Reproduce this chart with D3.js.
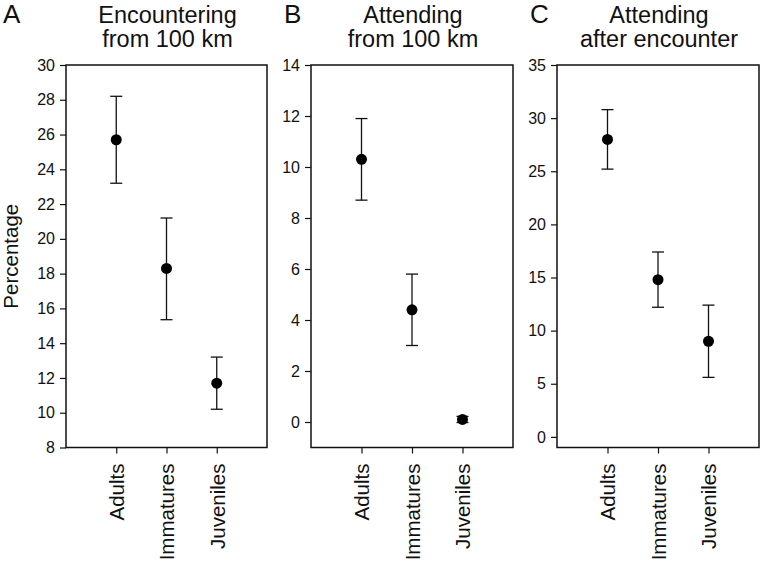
<!DOCTYPE html>
<html>
<head>
<meta charset="utf-8">
<script src="https://cdn.jsdelivr.net/npm/d3@7"></script>
<style>
  html, body { margin: 0; padding: 0; background: #fff; }
  svg { display: block; font-family: "Liberation Sans", Arial, sans-serif; }
</style>
</head>
<body>
<svg id="chart" width="762" height="564"></svg>
<script>
// ---- data ----
const categories = ["Adults", "Immatures", "Juveniles"];
const panelLetters = ["A", "B", "C"];
const titleLines1 = ["Encountering", "Attending", "Attending"];
const titleLines2 = ["from 100 km", "from 100 km", "after encounter"];

const meansA = [25.7, 18.3, 11.7];
const lowA   = [23.2, 15.35, 10.2];
const highA  = [28.2, 21.2, 13.2];

const meansB = [10.3, 4.4, 0.1];
const lowB   = [8.7, 3.0, -0.02];
const highB  = [11.9, 5.8, 0.22];

const meansC = [28.0, 14.8, 9.0];
const lowC   = [25.2, 12.2, 5.6];
const highC  = [30.8, 17.4, 12.4];

const ticksA = [8, 10, 12, 14, 16, 18, 20, 22, 24, 26, 28, 30];
const ticksB = [0, 2, 4, 6, 8, 10, 12, 14];
const ticksC = [0, 5, 10, 15, 20, 25, 30, 35];

const domainA = [8, 30];
const domainB = [-1, 14];
const domainC = [-1, 35];

const yLabel = "Percentage";

// ---- layout ----
const plotTop = 65, plotBottom = 447.5;
const panels = [
  { left: 66,  right: 267, means: meansA, low: lowA, high: highA, ticks: ticksA, domain: domainA },
  { left: 311, right: 513, means: meansB, low: lowB, high: highB, ticks: ticksB, domain: domainB },
  { left: 557, right: 759, means: meansC, low: lowC, high: highC, ticks: ticksC, domain: domainC }
];
const letterX = [3, 284, 530];

const svg = d3.select("#chart");
const ink = "#111";

panels.forEach((p, i) => {
  const g = svg.append("g");
  const x = d3.scalePoint().domain(categories).range([p.left, p.right]).padding(1);
  const y = d3.scaleLinear().domain(p.domain).range([plotBottom, plotTop]);

  // frame
  g.append("rect")
    .attr("x", p.left).attr("y", plotTop)
    .attr("width", p.right - p.left).attr("height", plotBottom - plotTop)
    .attr("fill", "none").attr("stroke", ink).attr("stroke-width", 1.5);

  // y axis
  const ya = g.append("g").attr("transform", `translate(${p.left},0)`)
    .call(d3.axisLeft(y).tickValues(p.ticks).tickSize(6).tickPadding(5).tickFormat(d3.format("d")));
  ya.select(".domain").remove();
  ya.selectAll("line").attr("stroke", ink).attr("stroke-width", 1.2);
  ya.selectAll("text").attr("fill", ink).style("font-size", "16px")
    .style("font-family", "'Liberation Sans', Arial, sans-serif");

  // x axis
  const xa = g.append("g").attr("transform", `translate(0,${plotBottom})`)
    .call(d3.axisBottom(x).tickSize(6).tickPadding(10));
  xa.select(".domain").remove();
  xa.selectAll("line").attr("stroke", ink).attr("stroke-width", 1.2);
  xa.selectAll("text")
    .attr("fill", ink)
    .style("font-size", "20.5px")
    .style("font-family", "'Liberation Sans', Arial, sans-serif")
    .attr("text-anchor", "end")
    .attr("transform", "rotate(-90)")
    .attr("x", -16).attr("y", 0).attr("dy", "0.36em");

  // error bars
  const capW = 6;
  categories.forEach((c, j) => {
    const cx = x(c);
    g.append("line").attr("x1", cx).attr("x2", cx)
      .attr("y1", y(p.low[j])).attr("y2", y(p.high[j]))
      .attr("stroke", ink).attr("stroke-width", 1.3);
    [p.low[j], p.high[j]].forEach(v => {
      g.append("line").attr("x1", cx - capW).attr("x2", cx + capW)
        .attr("y1", y(v)).attr("y2", y(v))
        .attr("stroke", ink).attr("stroke-width", 1.3);
    });
    g.append("circle").attr("cx", cx).attr("cy", y(p.means[j])).attr("r", 5.5).attr("fill", "#000");
  });

  // titles
  const cxTitle = (p.left + p.right) / 2 + 1;
  g.append("text").attr("x", cxTitle).attr("y", 23).attr("text-anchor", "middle")
    .attr("fill", ink).style("font-size", "23.5px").text(titleLines1[i]);
  g.append("text").attr("x", cxTitle).attr("y", 47).attr("text-anchor", "middle")
    .attr("fill", ink).style("font-size", "23.5px").text(titleLines2[i]);

  // panel letter
  g.append("text").attr("x", letterX[i]).attr("y", 23)
    .attr("fill", ink).style("font-size", "26px").text(panelLetters[i]);
});

// y axis label
svg.append("text")
  .attr("transform", `translate(18,${(plotTop + plotBottom) / 2}) rotate(-90)`)
  .attr("text-anchor", "middle").attr("fill", ink)
  .style("font-size", "20.5px").text(yLabel);
</script>
</body>
</html>
